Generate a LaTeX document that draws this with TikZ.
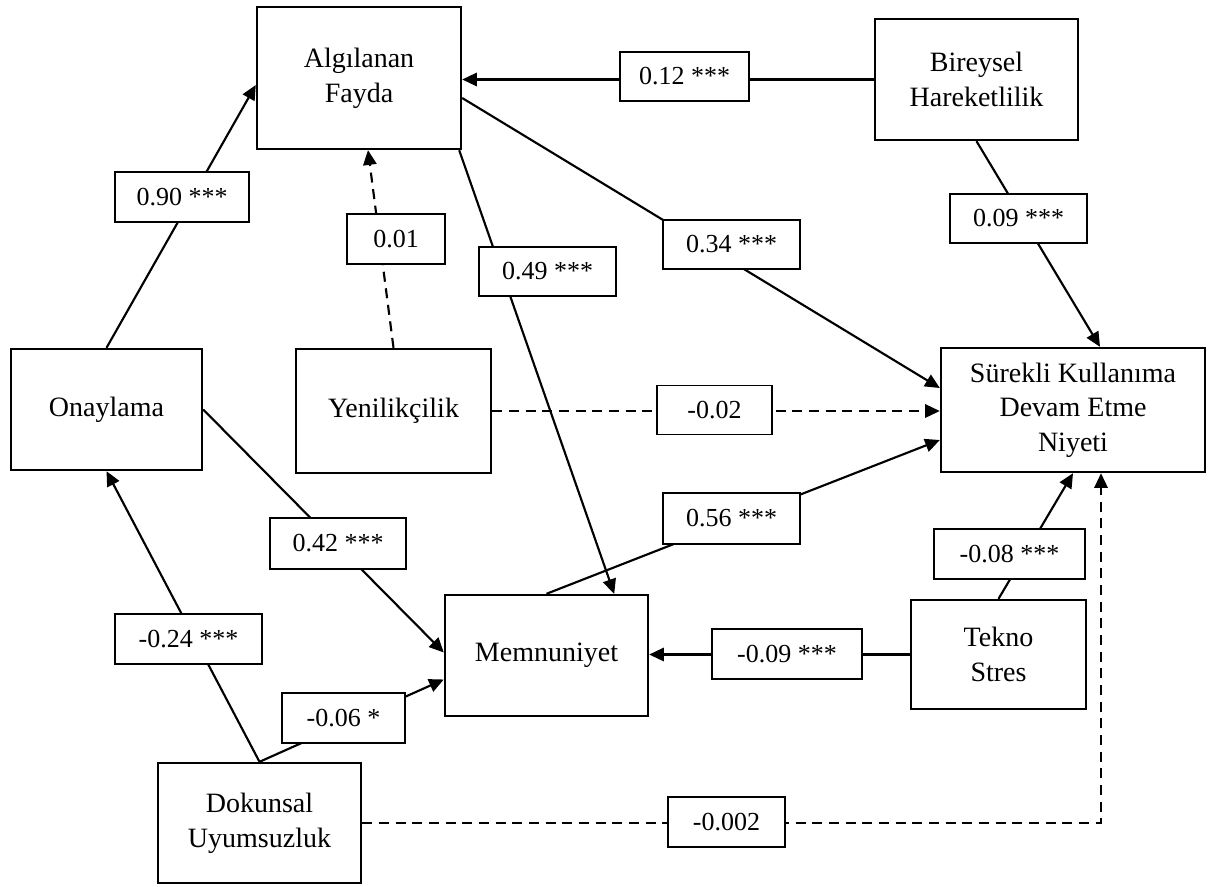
\documentclass[tikz,border=0pt]{standalone}
\usepackage{fontspec}
\setmainfont{Liberation Serif}
\usetikzlibrary{arrows.meta,calc}
\begin{document}
\begin{tikzpicture}[x=0.75pt,y=-0.75pt,
  var/.style={draw,line width=1.8pt,align=center,font=\fontsize{21}{26}\selectfont,inner sep=0pt},
  lab/.style={draw,line width=1.4pt,fill=white,font=\fontsize{19.5}{23}\selectfont,inner sep=0pt},
  sz/.style 2 args={minimum width=#1*0.75pt,minimum height=#2*0.75pt},
  conn/.style={line width=1.6pt,-{Triangle[length=11pt,width=10pt]}},
  dconn/.style={conn,dash pattern=on 7.5pt off 5pt}]
\useasboundingbox (0,0) rectangle (1209,886);

% variables
\node[var,sz={204}{142}] (AF) at (359,78) {Algılanan\\Fayda};
\node[var,sz={203}{121}] (BH) at (976.5,79.5) {Bireysel\\Hareketlilik};
\node[var,sz={191}{121}] (ON) at (106.5,409.5) {Onaylama};
\node[var,sz={195}{124}] (YE) at (393.5,411) {Yenilikçilik};
\node[var,sz={264}{124}] (SK) at (1073,410) {Sürekli Kullanıma\\Devam Etme\\Niyeti};
\node[var,sz={203}{121}] (ME) at (546.5,655.5) {Memnuniyet};
\node[var,sz={175}{109}] (TS) at (998.5,654.5) {Tekno\\Stres};
\node[var,sz={203}{120}] (DU) at (259.5,823) {Dokunsal\\Uyumsuzluk};

% connectors
\draw[conn] (BH.west) -- (AF.east |- BH.west);
\draw[conn] (ON.north) -- ($(AF.west)+(0,7)$);
\draw[dconn] (YE.north) -- ($(AF.south)+(9,0)$);
\draw[conn] ($(AF.south east)+(-3,0)$) -- ($(ME.north east)+(-35,0)$);
\draw[conn] ($(AF.east)+(0,20)$) -- ($(SK.west)+(0,-22)$);
\draw[conn] (BH.south) -- ($(SK.north)+(27,0)$);
\draw[dconn] (YE.east) -- (YE.east -| SK.west);
\draw[conn] (ME.north) -- ($(SK.west)+(0,30)$);
\draw[conn] (ON.east) -- ($(ME.west)+(0,-3)$);
\draw[conn] (DU.north) -- (ON.south);
\draw[conn] (DU.north) -- ($(ME.west)+(0,24)$);
\draw[conn] (TS.west) -- (TS.west -| ME.east);
\draw[conn] (TS.north) -- (SK.south);
\draw[dconn] (DU.east) -| ($(SK.south)+(28,0)$);

% coefficient labels
\node[lab,sz={129}{49}] (l1) at (684.5,76.5) {0.12 ***};
\node[lab,sz={134}{50}] (l2) at (182,197) {0.90 ***};
\node[lab,sz={98}{50}] (l3) at (396,239) {0.01};
\node[lab,sz={137}{49}] (l4) at (547.5,271.5) {0.49 ***};
\node[lab,sz={137}{49}] (l5) at (731.5,244.5) {0.34 ***};
\node[lab,sz={137}{49}] (l6) at (1018.5,218.5) {0.09 ***};
\node[lab,sz={115}{49}] (l7) at (714.5,410) {-0.02};
\node[lab,sz={136}{51}] (l8) at (338,543.5) {0.42 ***};
\node[lab,sz={137}{51}] (l9) at (731.5,518.5) {0.56 ***};
\node[lab,sz={151}{50}] (l10) at (1009.5,554) {-0.08 ***};
\node[lab,sz={147}{50}] (l11) at (188.5,639) {-0.24 ***};
\node[lab,sz={150}{50}] (l12) at (787,654) {-0.09 ***};
\node[lab,sz={123}{50}] (l13) at (343.5,718) {-0.06 *};
\node[lab,sz={117}{50}] (l14) at (726.5,822) {-0.002};
\end{tikzpicture}
\end{document}
